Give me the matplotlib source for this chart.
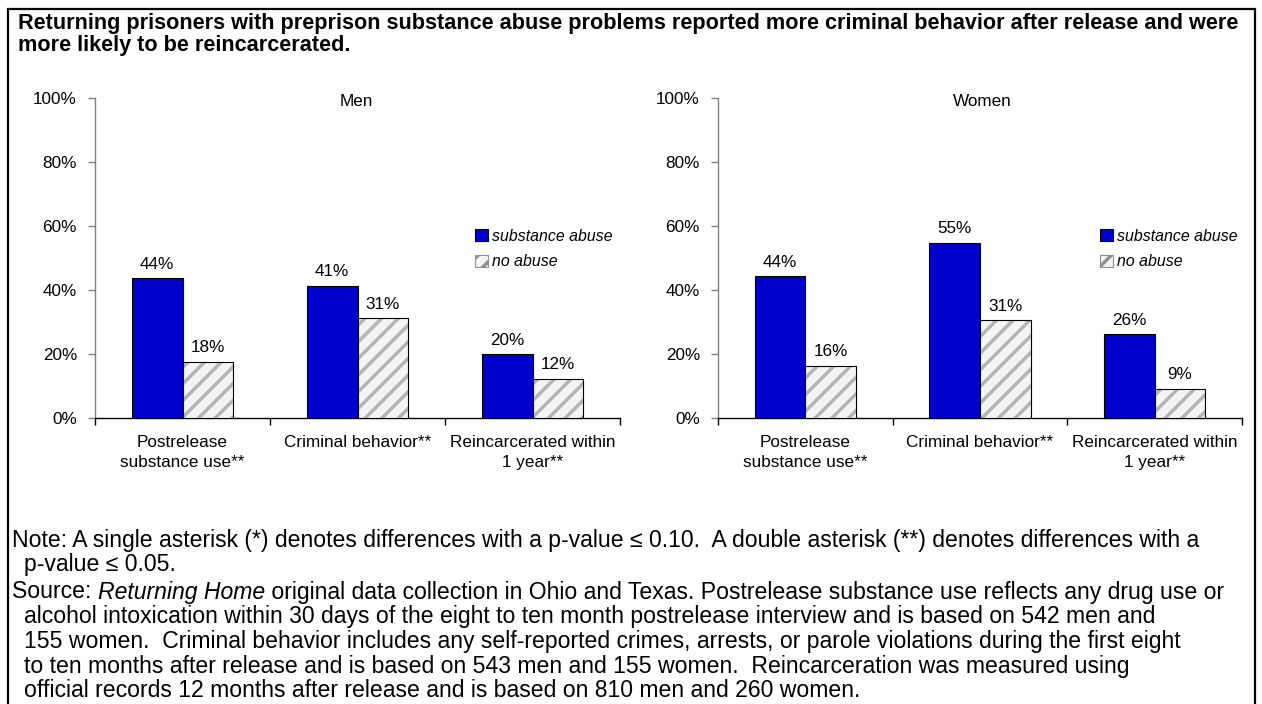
import matplotlib
matplotlib.use("Agg")
import matplotlib.pyplot as plt
from matplotlib.patches import Rectangle, Patch
import numpy as np

W, H = 1262, 704
plt.rcParams['font.family'] = ['Liberation Sans', 'DejaVu Sans']
plt.rcParams['hatch.linewidth'] = 2.5

categories = ["Postrelease\nsubstance use**", "Criminal behavior**", "Reincarcerated within\n1 year**"]
series_names = ["substance abuse", "no abuse"]
men_abuse = [43.6, 41.3, 19.9]
men_noabuse = [17.6, 31.2, 12.3]
women_abuse = [44.4, 54.8, 26.2]
women_noabuse = [16.4, 30.6, 9.2]
yticks = [0, 20, 40, 60, 80, 100]
ytick_labels = ["0%", "20%", "40%", "60%", "80%", "100%"]
panel_titles = ["Men", "Women"]

title_lines = ["Returning prisoners with preprison substance abuse problems reported more criminal behavior after release and were",
               "more likely to be reincarcerated."]
note_lines = ["Note: A single asterisk (*) denotes differences with a p-value \u2264 0.10.  A double asterisk (**) denotes differences with a",
              "p-value \u2264 0.05."]
source_lines = ["Source: ",
                "alcohol intoxication within 30 days of the eight to ten month postrelease interview and is based on 542 men and",
                "155 women.  Criminal behavior includes any self-reported crimes, arrests, or parole violations during the first eight",
                "to ten months after release and is based on 543 men and 155 women.  Reincarceration was measured using",
                "official records 12 months after release and is based on 810 men and 260 women."]

fig = plt.figure(figsize=(W/100, H/100), dpi=100)

def fx(x): return x / W
def fy(y): return 1 - y / H

# outer border
fig.patches.append(Rectangle((fx(8), fy(720)), fx(1255) - fx(8), fy(9) - fy(720),
                             transform=fig.transFigure, fill=False, edgecolor='black', linewidth=1.6))

# title
TFS = 15.6
fig.text(fx(18), fy(23), title_lines[0], fontsize=TFS, fontweight='bold', va='center', ha='left')
fig.text(fx(18), fy(45), title_lines[1], fontsize=TFS, fontweight='bold', va='center', ha='left')

BLUE = '#0000CC'
FS = 12.3
bw = 0.29
off = 0.145

panels = [
    (95, 620, men_abuse, men_noabuse, panel_titles[0], 356, 475),
    (718, 1242, women_abuse, women_noabuse, panel_titles[1], 982, 1100),
]
x = np.arange(len(categories))
for (xl, xr, a_vals, n_vals, ttl, tx, lgx) in panels:
    ax = fig.add_axes([fx(xl), fy(418), fx(xr) - fx(xl), fy(98) - fy(418)])
    ax.set_xlim(-0.5, 2.5)
    ax.set_ylim(0, 100)
    b1 = ax.bar(x - off, a_vals, bw, color=BLUE, edgecolor='black', linewidth=0.8, zorder=3)
    ax.bar(x + off, n_vals, bw, color='#f4f4f4', edgecolor='#b4b4b4', hatch='//', linewidth=0, zorder=3)
    b2 = ax.bar(x + off, n_vals, bw, color='none', edgecolor='black', linewidth=0.8, zorder=4)
    for bars, vals in ((b1, a_vals), (b2, n_vals)):
        for r, v in zip(bars, vals):
            ax.annotate(f"{v:.0f}%", (r.get_x() + r.get_width()/2, v), xytext=(0, 10),
                        textcoords='offset points', ha='center', va='center', fontsize=FS)
    for s in ('top', 'right'):
        ax.spines[s].set_visible(False)
    ax.spines['left'].set_color('#808080')
    ax.spines['left'].set_linewidth(1.0)
    ax.spines['bottom'].set_color('black')
    ax.spines['bottom'].set_linewidth(1.0)
    ax.set_yticks(yticks)
    ax.set_yticklabels(ytick_labels, fontsize=FS)
    ax.tick_params(axis='y', direction='out', length=5, width=1, color='#808080', pad=8)
    ax.set_xticks(x)
    ax.set_xticklabels(categories, fontsize=FS, linespacing=1.45)
    ax.tick_params(axis='x', which='major', length=0, pad=12)
    ax.set_xticks([-0.5, 0.5, 1.5, 2.5], minor=True)
    ax.tick_params(axis='x', which='minor', direction='out', length=5, width=1, color='black')
    ax.patch.set_alpha(0)
    fig.text(fx(tx), fy(102), ttl, fontsize=FS, ha='center', va='center')
    handles = [Patch(facecolor=BLUE, edgecolor='black', linewidth=0.8),
               Patch(facecolor='#f4f4f4', edgecolor='#909090', hatch='//', linewidth=0.8)]
    fig.legend(handles, series_names, loc='center left', bbox_to_anchor=(fx(lgx), fy(249)),
               frameon=False, handlelength=0.8, handleheight=0.8, handletextpad=0.25,
               labelspacing=0.65, prop={'style': 'italic', 'size': 11.4}, borderaxespad=0, borderpad=0)

NFS = 16.6
nfont = 'Liberation Sans'
X0, X1 = 12, 24
fig.text(fx(X0), fy(541), note_lines[0], fontsize=NFS, va='center', ha='left', family=nfont)
fig.text(fx(X1), fy(565), note_lines[1], fontsize=NFS, va='center', ha='left', family=nfont)
t = fig.text(fx(X0), fy(592), source_lines[0], fontsize=NFS, va='center', ha='left', family=nfont)
fig.canvas.draw()
bb = t.get_window_extent()
t2 = fig.text(bb.x1 / W, fy(592), "Returning Home", fontsize=NFS, va='center', ha='left', style='italic', family=nfont)
fig.canvas.draw()
bb2 = t2.get_window_extent()
fig.text(bb2.x1 / W, fy(592), " original data collection in Ohio and Texas. Postrelease substance use reflects any drug use or",
         fontsize=NFS, va='center', ha='left', family=nfont)
for i, ln in enumerate(source_lines[1:]):
    fig.text(fx(X1), fy(617 + 24.5 * i), ln, fontsize=NFS, va='center', ha='left', family=nfont)

fig.savefig("out.png", dpi=100)
